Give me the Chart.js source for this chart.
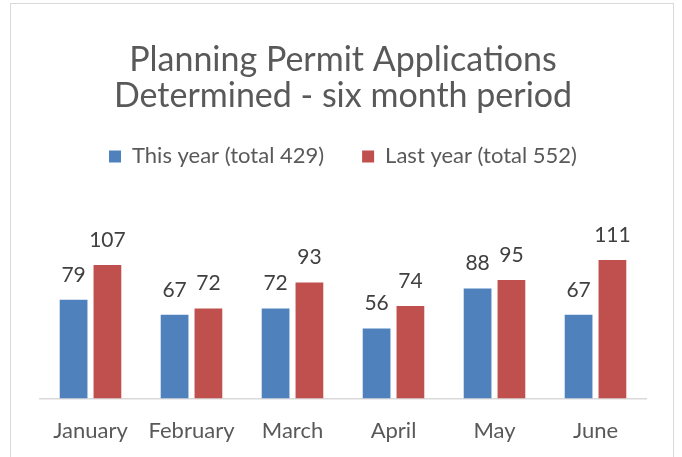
<!DOCTYPE html>
<html>
<head>
<meta charset="utf-8">
<script src="https://cdn.jsdelivr.net/npm/chart.js@4/dist/chart.umd.min.js"></script>
<style>
  html, body { margin: 0; padding: 0; background: #fff; overflow: hidden; }
  #frame { position: absolute; left: 10px; top: 3px; width: 662px; height: 480px; border: 1px solid #d9d9d9; }
  #wrap { position: absolute; left: 0; top: 0; width: 682px; height: 457px; }
</style>
</head>
<body>
<div id="frame"></div>
<div id="wrap"><canvas id="chart" width="682" height="457"></canvas></div>
<script>
const months = ["January", "February", "March", "April", "May", "June"];
const thisYear = [79, 67, 72, 56, 88, 67];
const lastYear = [107, 72, 93, 74, 95, 111];
const seriesNames = ["This year (total 429)", "Last year (total 552)"];
const titleLines = ["Planning Permit Applications", "Determined - six month period"];

const fontName = "Lato, 'Open Sans', sans-serif";

// draw the value above each bar
const barLabels = {
    id: "barLabels",
    afterDatasetsDraw(chart) {
        const ctx = chart.ctx;
        ctx.save();
        ctx.font = "21px " + fontName;
        ctx.fillStyle = "#404040";
        ctx.textAlign = "center";
        ctx.textBaseline = "middle";
        chart.data.datasets.forEach((ds, i) => {
            chart.getDatasetMeta(i).data.forEach((bar, j) => {
                ctx.fillText(ds.data[j], bar.x, bar.y - 25);
            });
        });
        ctx.restore();
    }
};

new Chart(document.getElementById("chart"), {
    type: "bar",
    data: {
        labels: months,
        datasets: [
            { label: seriesNames[0], data: thisYear, backgroundColor: "#4f81bd" },
            { label: seriesNames[1], data: lastYear, backgroundColor: "#c0504d" }
        ]
    },
    options: {
        responsive: false,
        animation: false,
        categoryPercentage: 0.67,
        barPercentage: 0.82,
        layout: { padding: { left: 40, right: 36, top: 12, bottom: -6 } },
        plugins: {
            title: {
                display: true,
                text: titleLines,
                color: "#595959",
                font: { family: fontName, size: 34, weight: "normal", lineHeight: 1.05 },
                padding: { top: 30, bottom: -6 }
            },
            legend: {
                position: "top",
                labels: {
                    color: "#595959",
                    font: { family: fontName, size: 22 },
                    boxWidth: 12,
                    boxHeight: 12,
                    padding: 38
                }
            },
            tooltip: { enabled: false }
        },
        scales: {
            x: {
                grid: { display: false, drawTicks: false },
                border: { display: true, color: "#d9d9d9", width: 1.5 },
                ticks: { color: "#595959", font: { family: fontName, size: 22 }, padding: 19 }
            },
            y: {
                display: false,
                min: 0,
                max: 177
            }
        }
    },
    plugins: [barLabels]
});
</script>
</body>
</html>
